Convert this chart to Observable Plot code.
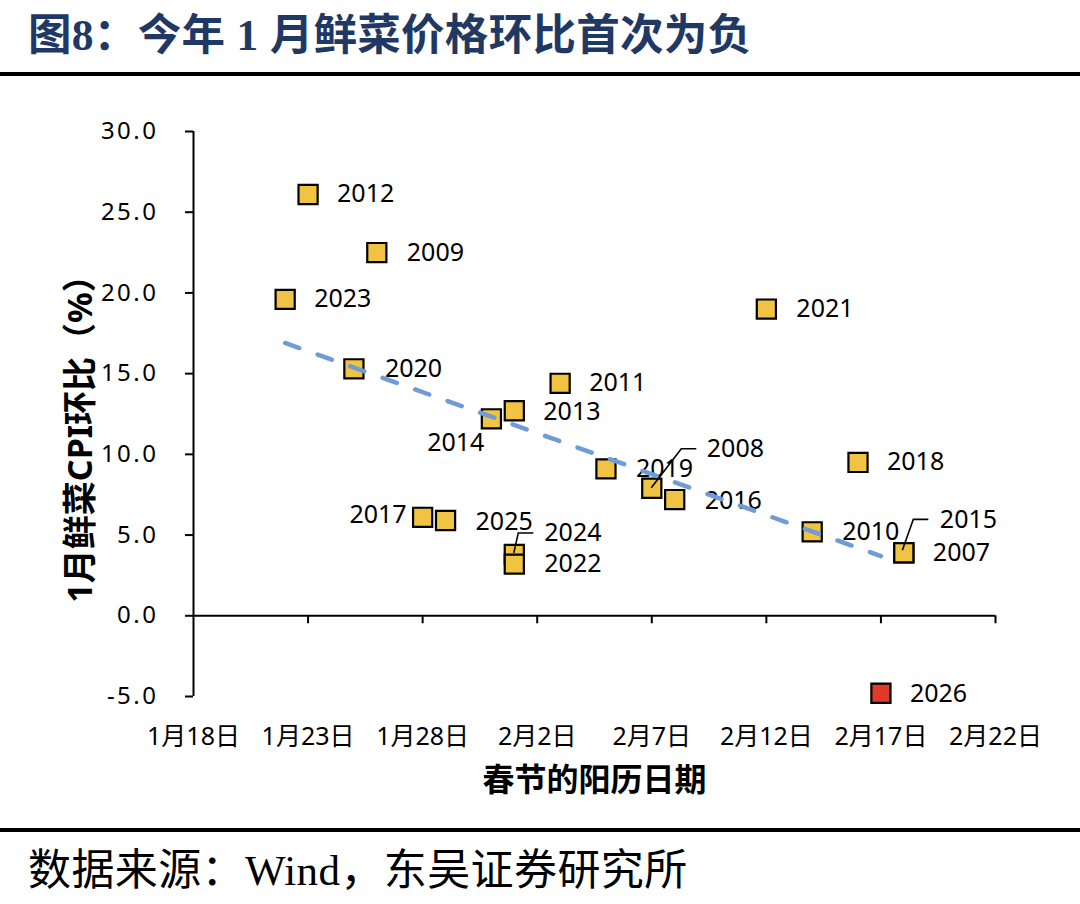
<!DOCTYPE html>
<html><head><meta charset="utf-8">
<script src="https://cdn.jsdelivr.net/npm/d3@7"></script>
<script src="https://cdn.jsdelivr.net/npm/@observablehq/plot@0.6"></script>
<style>
html,body{margin:0;padding:0;background:#fff;}
#page{position:relative;width:1080px;height:904px;overflow:hidden;background:#fff;}
#title{position:absolute;left:28px;top:6px;font-family:"Liberation Serif","Noto Sans CJK SC",serif;font-weight:700;font-size:43.5px;line-height:58px;color:#1f3864;white-space:nowrap;letter-spacing:0.3px;}
.rule{position:absolute;left:0;width:1080px;height:4px;background:#000;}
#chart{position:absolute;left:0;top:100px;}
#source{position:absolute;left:28px;top:842px;font-family:"Liberation Serif","Noto Sans CJK SC",serif;font-size:43px;line-height:58px;color:#000;white-space:nowrap;letter-spacing:0.4px;}
</style>
</head><body>
<div id="page">
  <div id="title">图8：今年 1 月鲜菜价格环比首次为负</div>
  <div class="rule" style="top:72px"></div>
  <div id="chart"></div>
  <div class="rule" style="top:828px"></div>
  <div id="source">数据来源：Wind，东吴证券研究所</div>
</div>
<script>
// ---- data ----
const years  = [2012, 2009, 2023, 2020, 2014, 2013, 2011, 2019, 2008, 2016, 2021, 2018, 2010, 2015, 2007, 2017, 2025, 2024, 2022, 2026];
const dates  = ["01-23","01-26","01-22","01-25","01-31","02-01","02-03","02-05","02-07","02-08","02-12","02-16","02-14","02-18","02-18","01-28","01-29","02-01","02-01","02-17"];
const values = [26.1, 22.5, 19.6, 15.3, 12.2, 12.7, 14.4, 9.1, 7.9, 7.2, 19.0, 9.5, 5.2, 3.9, 3.9, 6.1, 5.9, 3.8, 3.2, -4.8];
const highlightYear = 2026;
const trendDates  = ["01-22", "02-17"];
const trendValues = [16.9, 3.7];
const xTickDates  = ["01-18","01-23","01-28","02-02","02-07","02-12","02-17","02-22"];
const yTicks      = [-5, 0, 5, 10, 15, 20, 25, 30];
const xTitle = "春节的阳历日期";
const yTitle = "1月鲜菜CPI环比（%）";

// ---- label placement (pixel offsets, styling only) ----
const labelPlace = {
  2012:{dx:29,dy:0}, 2009:{dx:30,dy:0}, 2023:{dx:29,dy:0}, 2020:{dx:31,dy:0},
  2014:{dx:-7,dy:24,anchor:"end"}, 2013:{dx:29,dy:1}, 2011:{dx:29,dy:0},
  2019:{dx:30,dy:0}, 2008:{dx:55,dy:-39}, 2016:{dx:30,dy:1}, 2021:{dx:30,dy:0},
  2018:{dx:29,dy:0}, 2010:{dx:30,dy:0}, 2015:{dx:36,dy:-33}, 2007:{dx:29,dy:0},
  2017:{dx:-16,dy:-2,anchor:"end"}, 2025:{dx:30,dy:1}, 2024:{dx:30,dy:-21},
  2022:{dx:30,dy:0}, 2026:{dx:29,dy:1}
};
const leaders = {
  2008: [[0,0],[30,-39],[45,-39]],
  2015: [[-1,-2],[10,-33],[25,-33]],
  2024: [[0,-1],[4.5,-21],[19.5,-21]]
};

const D = s => new Date(`2026-${s}T00:00:00Z`);
const data = years.map((y, i) => ({year: y, date: D(dates[i]), value: values[i]}));
const trend = trendDates.map((d, i) => ({date: D(d), value: trendValues[i]}));
const xTicks = xTickDates.map(D);
const fmtDate = d => `${d.getUTCMonth() + 1}月${d.getUTCDate()}日`;

const GOLD = "#f1c342", RED = "#e23a28", BLUE = "#6f9bd6";
const sans = "'Noto Sans','Noto Sans CJK SC',sans-serif";

const labelMarks = data.map(d => {
  const p = labelPlace[d.year] || {dx:29, dy:0};
  return Plot.text([d], {x: "date", y: "value", text: dd => String(dd.year),
    dx: p.dx, dy: p.dy, textAnchor: p.anchor || "start", fontSize: 25, fill: "#000"});
});

const plot = Plot.plot({
  width: 1080, height: 720,
  marginLeft: 193, marginRight: 85, marginTop: 31, marginBottom: 124,
  x: {type: "utc", domain: [xTicks[0], xTicks[xTicks.length - 1]]},
  y: {domain: [-5, 30]},
  style: {fontFamily: sans, background: "white", color: "#000"},
  marks: [
    Plot.ruleY([0], {stroke: "#000", strokeWidth: 2}),
    Plot.ruleX([xTicks[0]], {y1: -5, y2: 30, stroke: "#000", strokeWidth: 2}),
    Plot.ruleX(xTicks.slice(1), {x: d => d, y1: 0, y2: 0, insetBottom: -8, stroke: "#000", strokeWidth: 2}),
    Plot.axisY({ticks: yTicks, tickSize: 8, tickPadding: 27, tickFormat: d => d.toFixed(1), fontSize: 24, strokeWidth: 2, label: null}),
    Plot.axisX({ticks: xTicks, tickSize: 0, tickPadding: 31, tickFormat: fmtDate, fontSize: 25, label: null}),
    Plot.dot(data.filter(d => d.year !== highlightYear), {x: "date", y: "value", symbol: "square", r: 10.8, fill: GOLD, stroke: "#000", strokeWidth: 2.2}),
    Plot.dot(data.filter(d => d.year === highlightYear), {x: "date", y: "value", symbol: "square", r: 10.8, fill: RED, stroke: "#000", strokeWidth: 2.2}),
    ...labelMarks,
    Plot.line(trend, {x: "date", y: "value", stroke: BLUE, strokeWidth: 4.5, strokeDasharray: "15,19.5", strokeLinecap: "round"}),
    Plot.text([yTitle], {text: d => d, frameAnchor: "left", textAnchor: "middle", lineAnchor: "middle", dx: -112, dy: 16.5, rotate: -90, fontSize: 34, fontWeight: "bold", fill: "#000"}),
    Plot.text([xTitle], {text: d => d, frameAnchor: "bottom", textAnchor: "middle", lineAnchor: "middle", dy: 84, fontSize: 32, fontWeight: "bold", fill: "#000", fontFamily: "'Noto Sans CJK SC',sans-serif"})
  ]
});

// wider spacing of the y tick numbers, as in the reference
d3.select(plot).selectAll('g[aria-label="y-axis tick label"] text').attr("letter-spacing", "2.5px");

// leader lines from the points to their labels
const sx = plot.scale("x"), sy = plot.scale("y");
const g = d3.select(plot).append("g").attr("fill", "none").attr("stroke", "#000").attr("stroke-width", 1.6);
for (const [yr, pts] of Object.entries(leaders)) {
  const d = data.find(e => e.year === +yr);
  const px = sx.apply(d.date), py = sy.apply(d.value);
  g.append("path").attr("d", "M" + pts.map(([a, b]) => `${px + a},${py + b}`).join("L"));
}
document.getElementById("chart").appendChild(plot);
</script>
</body></html>
